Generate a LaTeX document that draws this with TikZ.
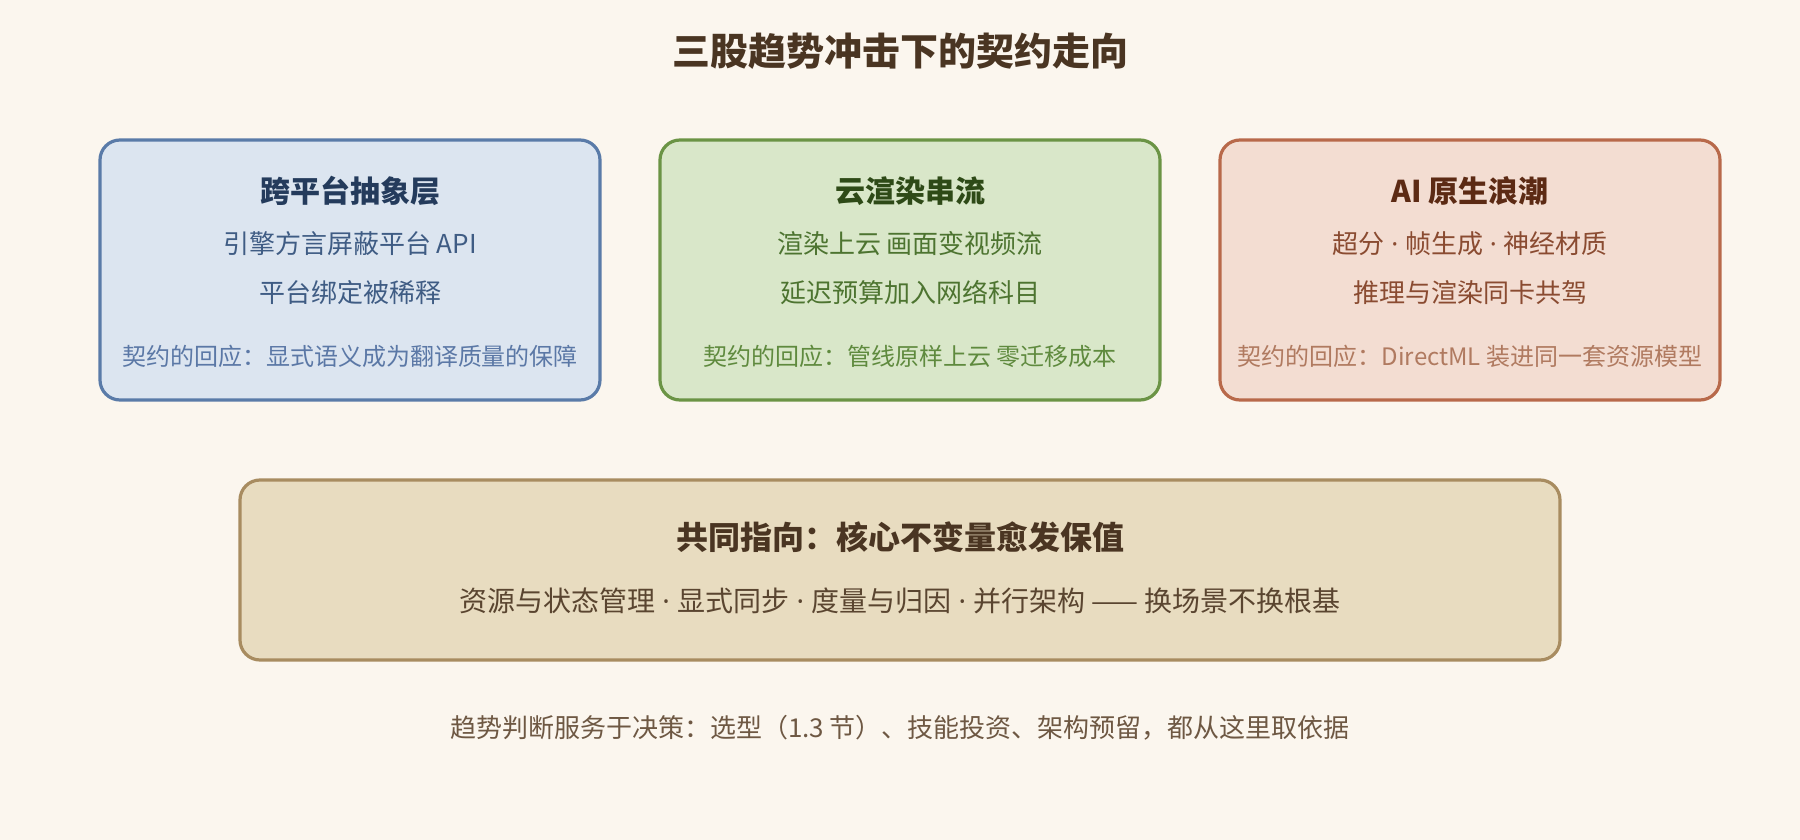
\documentclass[tikz,border=0pt]{standalone}
\usepackage{fontspec}
\setmainfont{Noto Sans CJK SC}
\newfontfamily\latinf{Noto Sans}
\newcommand{\mdot}{{\latinf\ ·\ }}
\definecolor{bgc}{HTML}{FBF6EE}
\definecolor{titlec}{HTML}{4A3522}
\definecolor{bAfill}{HTML}{DCE5F0}
\definecolor{bAdraw}{HTML}{5A7BA8}
\definecolor{bAhead}{HTML}{243B5C}
\definecolor{bAbody}{HTML}{3F5C84}
\definecolor{bAresp}{HTML}{5B78A6}
\definecolor{bBfill}{HTML}{D9E7C9}
\definecolor{bBdraw}{HTML}{6B9445}
\definecolor{bBhead}{HTML}{2E4A17}
\definecolor{bBbody}{HTML}{4D7430}
\definecolor{bBresp}{HTML}{5F8A3E}
\definecolor{bCfill}{HTML}{F3DDD2}
\definecolor{bCdraw}{HTML}{B8694A}
\definecolor{bChead}{HTML}{5C2A14}
\definecolor{bCbody}{HTML}{8A4B31}
\definecolor{bCresp}{HTML}{B07A60}
\definecolor{bDfill}{HTML}{E8DCC0}
\definecolor{bDdraw}{HTML}{A88C60}
\definecolor{bDhead}{HTML}{4A3522}
\definecolor{bDbody}{HTML}{5A4530}
\definecolor{footc}{HTML}{6E5843}
\tikzset{
  card/.style={rectangle, rounded corners=20pt, line width=3.2pt, inner sep=0pt},
  txt/.style={anchor=base, inner sep=0pt, align=center},
  fs/.style={font=\fontsize{#1}{#1}\selectfont},
  fsb/.style={font=\fontsize{#1}{#1}\selectfont\bfseries},
}
\begin{document}
\begin{tikzpicture}[x=1pt,y=-1pt]
\fill[bgc] (0,0) rectangle (1800,840);
\useasboundingbox (0,0) rectangle (1800,840);

\node[txt, fsb=38, text=titlec] (title) at (900,66) {三股趋势冲击下的契约走向};

% card A
\node[card, draw=bAdraw, fill=bAfill, minimum width=500pt, minimum height=260pt] (cardA) at (350,270) {};
\node[txt, fsb=30, text=bAhead] (aH) at (350,203) {跨平台抽象层};
\node[txt, fs=26, text=bAbody] (aL1) at (350,253) {引擎方言屏蔽平台 API};
\node[txt, fs=26, text=bAbody] (aL2) at (350,302) {平台绑定被稀释};
\node[txt, fs=24, text=bAresp] (aR) at (350,365) {契约的回应：显式语义成为翻译质量的保障};

% card B
\node[card, draw=bBdraw, fill=bBfill, minimum width=500pt, minimum height=260pt] (cardB) at (910,270) {};
\node[txt, fsb=30, text=bBhead] (bH) at (910,203) {云渲染串流};
\node[txt, fs=26, text=bBbody] (bL1) at (910,253) {渲染上云 画面变视频流};
\node[txt, fs=26, text=bBbody] (bL2) at (910,302) {延迟预算加入网络科目};
\node[txt, fs=24, text=bBresp] (bR) at (910,365) {契约的回应：管线原样上云 零迁移成本};

% card C
\node[card, draw=bCdraw, fill=bCfill, minimum width=500pt, minimum height=260pt] (cardC) at (1470,270) {};
\node[txt, fsb=30, text=bChead] (cH) at (1470,203) {AI 原生浪潮};
\node[txt, fs=26, text=bCbody] (cL1) at (1470,253) {超分\mdot 帧生成\mdot 神经材质};
\node[txt, fs=26, text=bCbody] (cL2) at (1470,302) {推理与渲染同卡共驾};
\node[txt, fs=24, text=bCresp] (cR) at (1470,365) {契约的回应：DirectML 装进同一套资源模型};

% bottom card
\node[card, draw=bDdraw, fill=bDfill, minimum width=1320pt, minimum height=180pt] (cardD) at (900,570) {};
\node[txt, fsb=32, text=bDhead] (dH) at (900,549) {共同指向：核心不变量愈发保值};
\node[txt, fs=28, text=bDbody] (dL) at (900,611) {资源与状态管理\mdot 显式同步\mdot 度量与归因\mdot 并行架构 —— 换场景不换根基};

\node[txt, fs=26, text=footc] (foot) at (900,737) {趋势判断服务于决策：选型（1.3 节）、技能投资、架构预留，都从这里取依据};
\end{tikzpicture}
\end{document}
